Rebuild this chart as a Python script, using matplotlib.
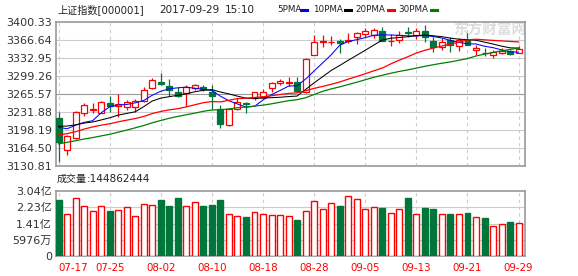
import numpy as np
import pandas as pd
import matplotlib
matplotlib.use('Agg')
import matplotlib.pyplot as plt
from matplotlib.lines import Line2D

plt.rcParams['font.family'] = ['DejaVu Sans', 'Noto Sans CJK SC']

# trading days shown on the chart
dates = ['07-17', '07-18', '07-19', '07-20', '07-21', '07-24', '07-25', '07-26', '07-27', '07-28',
         '07-31', '08-01', '08-02', '08-03', '08-04', '08-07', '08-08', '08-09', '08-10', '08-11',
         '08-14', '08-15', '08-16', '08-17', '08-18', '08-21', '08-22', '08-23', '08-24', '08-25',
         '08-28', '08-29', '08-30', '08-31', '09-01', '09-04', '09-05', '09-06', '09-07', '09-08',
         '09-11', '09-12', '09-13', '09-14', '09-15', '09-18', '09-19', '09-20', '09-21', '09-22',
         '09-25', '09-26', '09-27', '09-28', '09-29']

opens = [3221.2, 3160.7, 3182.6, 3229.4, 3236.5, 3230.6, 3249.3, 3243.0, 3240.6, 3240.6,
         3253.0, 3276.2, 3288.0, 3281.1, 3268.7, 3268.0, 3277.4, 3279.0, 3269.5, 3237.0,
         3207.0, 3237.0, 3249.0, 3258.6, 3260.5, 3276.2, 3286.5, 3286.0, 3287.5, 3269.8,
         3338.6, 3363.0, 3362.0, 3365.5, 3365.0, 3371.7, 3378.6, 3375.4, 3383.5, 3364.5,
         3366.6, 3381.0, 3376.0, 3384.0, 3365.3, 3354.0, 3366.0, 3355.0, 3367.0, 3348.0,
         3342.0, 3338.6, 3341.7, 3346.0, 3341.7]
highs = [3231.3, 3188.5, 3233.0, 3248.2, 3249.3, 3252.6, 3262.4, 3265.0, 3254.3, 3255.6,
         3278.1, 3295.0, 3305.4, 3293.6, 3279.2, 3282.0, 3284.3, 3283.0, 3282.4, 3245.0,
         3238.0, 3258.6, 3250.3, 3269.5, 3274.3, 3287.5, 3293.1, 3297.0, 3297.0, 3332.5,
         3376.0, 3376.0, 3374.7, 3368.5, 3380.3, 3382.2, 3389.6, 3388.5, 3391.5, 3378.0,
         3384.0, 3390.5, 3388.5, 3394.7, 3372.8, 3369.8, 3371.7, 3370.0, 3379.0, 3357.3,
         3351.0, 3348.0, 3351.0, 3348.0, 3355.4]
lows = [3138.9, 3151.4, 3181.5, 3225.0, 3229.4, 3230.0, 3232.4, 3223.0, 3236.0, 3232.4,
        3251.2, 3274.3, 3282.4, 3262.4, 3260.5, 3243.7, 3273.1, 3271.0, 3237.0, 3201.4,
        3206.0, 3235.6, 3230.0, 3254.3, 3258.6, 3270.0, 3282.4, 3280.0, 3269.8, 3268.0,
        3338.0, 3354.0, 3357.0, 3341.7, 3360.5, 3359.0, 3372.5, 3369.8, 3365.3, 3356.0,
        3360.5, 3372.8, 3368.0, 3363.5, 3344.7, 3348.0, 3344.7, 3346.0, 3357.0, 3338.6,
        3336.7, 3332.7, 3341.0, 3338.6, 3341.7]
closes = [3176.49, 3187.57, 3230.98, 3244.86, 3237.98, 3250.60, 3243.69, 3247.67, 3249.78, 3253.24,
          3273.03, 3292.64, 3285.06, 3272.93, 3262.08, 3279.46, 3281.87, 3275.57, 3261.75, 3208.54,
          3237.36, 3251.26, 3246.45, 3268.43, 3268.72, 3286.91, 3290.23, 3287.71, 3271.51, 3331.52,
          3362.65, 3365.23, 3363.63, 3360.81, 3367.12, 3379.58, 3384.32, 3385.39, 3365.50, 3365.24,
          3376.42, 3379.49, 3384.15, 3371.43, 3353.62, 3362.86, 3356.84, 3366.00, 3357.81, 3352.53,
          3341.55, 3343.58, 3345.27, 3339.64, 3348.94]
# closes before the first visible day, needed for the moving averages
prior_close = [3102.10, 3140.32, 3150.33, 3158.40, 3153.74, 3153.91, 3130.67, 3132.49, 3123.17, 3144.37,
               3140.01, 3156.21, 3147.45, 3157.87, 3185.44, 3191.20, 3173.20, 3188.06, 3192.43, 3195.91,
               3182.80, 3207.13, 3212.44, 3217.96, 3212.63, 3203.04, 3197.54, 3218.16, 3222.42]
# volume in 亿
volumes = [2.589, 1.871, 2.673, 2.272, 2.038, 2.272, 2.038, 2.088, 2.222, 1.787,
           2.372, 2.322, 2.589, 2.288, 2.689, 2.272, 2.489, 2.288, 2.339, 2.589,
           1.871, 1.787, 1.737, 1.971, 1.871, 1.821, 1.821, 1.771, 1.587, 2.038,
           2.539, 2.138, 2.439, 2.288, 2.789, 2.639, 2.138, 2.238, 2.188, 1.938,
           2.138, 2.689, 1.888, 2.188, 2.138, 1.888, 1.888, 1.888, 1.938, 1.737,
           1.687, 1.286, 1.387, 1.487, 1.4486]

price_ticks = [3130.81, 3164.50, 3198.19, 3231.88, 3265.57, 3299.26, 3332.95, 3366.64, 3400.33]
vol_ticks = [-0.2165, 0.5976, 1.4117, 2.2258, 3.04]
vol_labels = ['0', '5976万', '1.41亿', '2.23亿', '3.04亿']

W, H = 578, 276
RED = '#ff0000'
GREEN = '#00763a'
GRID = '#cccccc'
FRAME = '#999999'

fig = plt.figure(figsize=(W / 100, H / 100), dpi=100)
ax = fig.add_axes([56 / W, 1 - 166 / H, 469 / W, 144 / H])
axv = fig.add_axes([56 / W, 1 - 256 / H, 469 / W, 65 / H])

n = len(dates)
x = np.arange(n)
o = np.array(opens)
c = np.array(closes)
up = c >= o
cols = [RED if u else GREEN for u in up]
faces = ['white' if u else GREEN for u in up]

all_close = pd.Series(prior_close + closes)
ma = {k: all_close.rolling(k).mean().values[-n:] for k in (5, 10, 20, 30)}

# price panel
for t in price_ticks[1:-1]:
    ax.axhline(t, color='#999999' if t == 3265.57 else GRID, lw=0.8, zorder=0)
for i in range(0, n, 6):
    ax.axvline(i, color=GRID, lw=0.8, ls=(0, (3, 3)), zorder=0)
    axv.axvline(i, color=GRID, lw=0.8, ls=(0, (3, 3)), zorder=0)

ax.vlines(x, lows, highs, colors=cols, lw=0.9, zorder=2)
ax.bar(x, np.maximum(np.abs(c - o), 0.4), bottom=np.minimum(o, c), width=0.7,
       color=faces, edgecolor=cols, lw=0.9, zorder=3)
ax.plot(x, ma[5], color='#0000ff', lw=0.75, zorder=4)
ax.plot(x, ma[10], color='black', lw=0.75, zorder=4)
ax.plot(x, ma[20], color=RED, lw=0.9, zorder=4)
ax.plot(x, ma[30], color='#008000', lw=0.9, zorder=4)

ax.set_xlim(-0.3, 54.75)
ax.set_ylim(price_ticks[0], price_ticks[-1])
ax.set_yticks(price_ticks)
ax.set_yticklabels(['%.2f' % t for t in price_ticks])
ax.set_xticks([])
ax.tick_params(axis='y', length=0, pad=3, labelsize=8, labelcolor='#333333')

# watermark
ax.text(490 / W, 1 - 30 / H, '东方财富网', transform=fig.transFigure, fontsize=10.5,
        color='#dddddd', fontweight='bold', ha='center', va='center', zorder=1,
        family=['Noto Sans CJK SC'])

# volume panel
for t in vol_ticks[1:-1]:
    axv.axhline(t, color=GRID, lw=0.8, zorder=0)
vols = np.array(volumes)
axv.bar(x, vols - vol_ticks[0], bottom=vol_ticks[0], width=0.7,
        color=faces, edgecolor=cols, lw=1.0, zorder=3)
axv.set_xlim(-0.3, 54.75)
axv.set_ylim(vol_ticks[0], vol_ticks[-1])
axv.set_yticks(vol_ticks)
axv.set_yticklabels(vol_labels)
axv.set_xticks(x[::6])
axv.set_xticklabels(dates[::6])
axv.tick_params(axis='y', length=0, pad=3, labelsize=8, labelcolor='#333333')
axv.tick_params(axis='x', length=0, pad=5, labelsize=7.4, labelcolor=RED)
axv.get_xticklabels()[0].set_ha('left')

for a in (ax, axv):
    for s in a.spines.values():
        s.set_color(FRAME)
        s.set_linewidth(1.2)

# header texts
fig.text(57 / W, 1 - 10 / H, '上证指数[000001]', fontsize=7.3, va='center', color='#222222')
fig.text(159 / W, 1 - 10 / H, '2017-09-29', fontsize=7.5, va='center', color='#222222')
fig.text(225 / W, 1 - 10 / H, '15:10', fontsize=7.5, va='center', color='#222222')

legend = [('5PMA', 277, 301, '#0000ff'), ('10PMA', 313, 345, 'black'),
          ('20PMA', 355, 388, RED), ('30PMA', 398, 431, '#008000')]
for label, tx, lx, col in legend:
    fig.text(tx / W, 1 - 10 / H, label, fontsize=6.3, va='center', color='#222222')
    fig.add_artist(Line2D([lx / W, (lx + 6) / W], [1 - 10 / H, 1 - 10 / H], color=col, lw=2.2))

fig.text(57 / W, 1 - 179 / H, '成交量', fontsize=7.2, va='center', color='#222222')
fig.text(87 / W, 1 - 179 / H, ':144862444', fontsize=7.6, va='center', color='#222222')

fig.savefig('out.png', dpi=100)
